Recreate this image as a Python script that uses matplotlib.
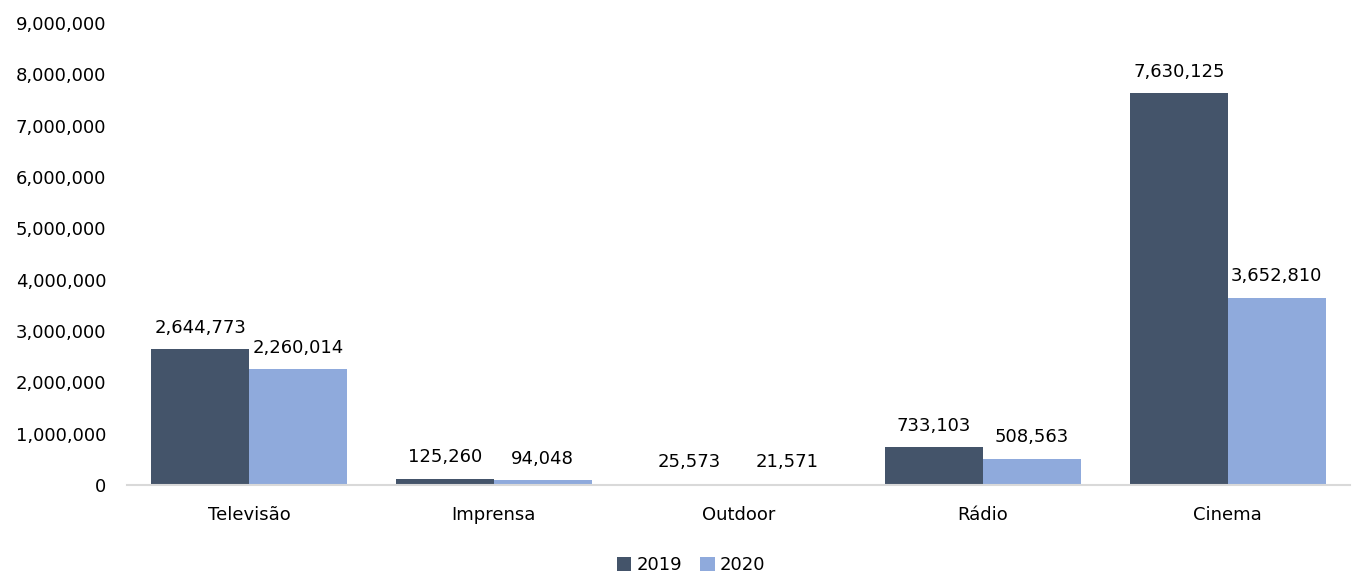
import matplotlib
matplotlib.use("Agg")
import matplotlib.pyplot as plt
import numpy as np
from matplotlib.ticker import FuncFormatter

categories = ["Televisão", "Imprensa", "Outdoor", "Rádio", "Cinema"]
series_names = ["2019", "2020"]
values_2019 = [2644773, 125260, 25573, 733103, 7630125]
values_2020 = [2260014, 94048, 21571, 508563, 3652810]
colors = ["#44546A", "#8FAADC"]

plt.rcParams['font.family'] = ['DejaVu Sans']
fig = plt.figure(figsize=(13.55, 5.72), dpi=100)
ax = fig.add_axes([0.0937, 0.152, 0.9026, 0.8078])

x = np.arange(len(categories))
w = 0.4
fs = 13
for i, (vals, name, c) in enumerate(zip([values_2019, values_2020], series_names, colors)):
    bars = ax.bar(x + (i - 0.5) * w, vals, width=w, color=c, label=name, align='center')
    for b, v in zip(bars, vals):
        ax.annotate(f"{v:,}", (b.get_x() + b.get_width() / 2, v), xytext=(0, 9),
                    textcoords="offset points", ha="center", va="bottom", fontsize=fs, color="#000000")

ax.set_xlim(-0.5, len(categories) - 0.5)
ax.set_ylim(0, 9000000)
ax.set_yticks(np.arange(0, 9000001, 1000000))
ax.yaxis.set_major_formatter(FuncFormatter(lambda v, p: f"{int(v):,}"))
ax.set_xticks(x)
ax.set_xticklabels(categories)
ax.tick_params(axis='both', length=0, labelsize=fs, colors="#000000")
ax.tick_params(axis='x', pad=15)
ax.tick_params(axis='y', pad=15)
for s in ["top", "right", "left"]:
    ax.spines[s].set_visible(False)
ax.spines["bottom"].set_color("#D9D9D9")
ax.spines["bottom"].set_linewidth(1.5)

leg = fig.legend(loc="lower center", bbox_to_anchor=(0.51, -0.032), ncol=2, frameon=False,
                 fontsize=fs, handlelength=0.8, handleheight=0.8, handletextpad=0.3, columnspacing=1.0)

fig.savefig("out.png", dpi=100)
